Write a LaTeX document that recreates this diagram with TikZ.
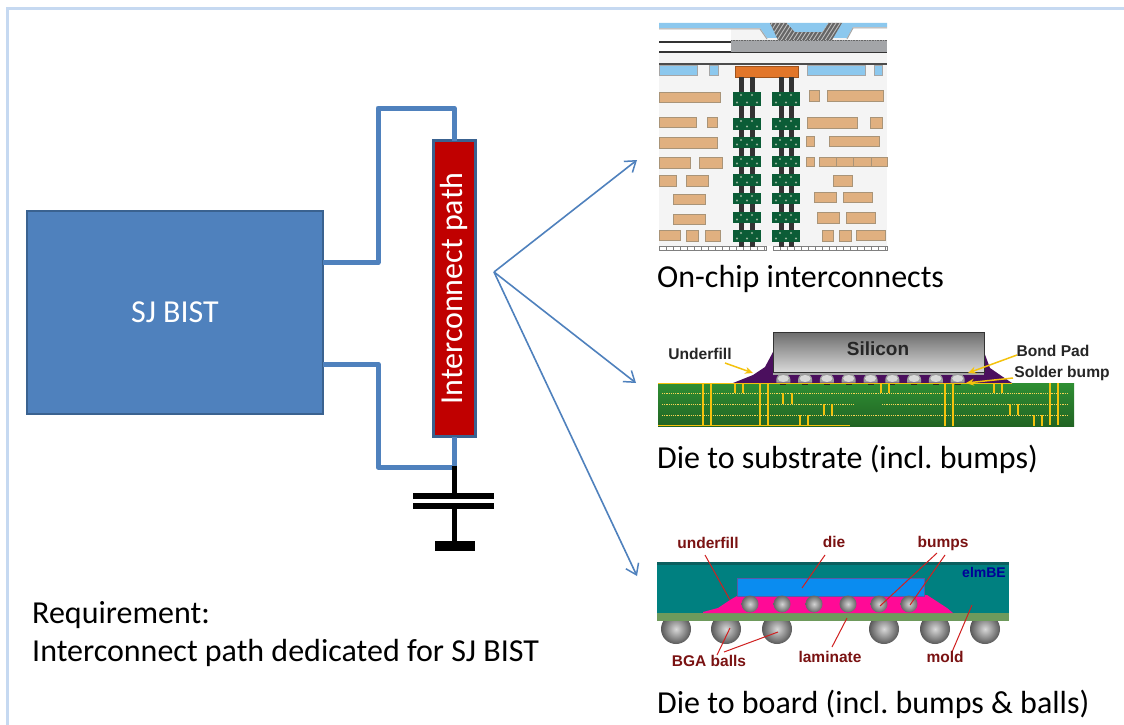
\documentclass[tikz,border=0pt]{standalone}
\usepackage{fontspec}
\setmainfont{Carlito}
\setsansfont{Liberation Sans}
\frenchspacing
\usetikzlibrary{arrows.meta}
\definecolor{frameblue}{HTML}{C6D9F1}
\definecolor{officeblue}{HTML}{4F81BD}
\definecolor{officeedge}{HTML}{3A6290}
\definecolor{pathred}{HTML}{C00000}
\definecolor{chipbg}{HTML}{F4F4F4}
\definecolor{chipblue}{HTML}{8CC8EE}
\definecolor{chipgrey}{HTML}{A3A5A8}
\definecolor{chiporange}{HTML}{E2762A}
\definecolor{chiptan}{HTML}{E0B080}
\definecolor{chiptanedge}{HTML}{A99478}
\definecolor{viagreen}{HTML}{0B5C36}
\definecolor{viadot}{HTML}{9DB8A0}
\definecolor{viadark}{HTML}{333333}
\definecolor{boardgreen}{HTML}{2F8F33}
\definecolor{goldline}{HTML}{F4C20D}
\definecolor{underpurple}{HTML}{4B0F5E}
\definecolor{moldteal}{HTML}{008080}
\definecolor{moldtop}{HTML}{0B5F5F}
\definecolor{laminate}{HTML}{6E9A5C}
\definecolor{dieblue}{HTML}{0A8CF0}
\definecolor{magentafill}{HTML}{FF0A96}
\definecolor{labelred}{HTML}{7A1212}
\definecolor{leadred}{HTML}{D02020}
\tikzset{
  bistbox/.style={draw=officeedge,line width=2.5pt,fill=officeblue,inner sep=0pt,outer sep=0pt,text=white,font=\fontsize{32}{34}\selectfont},
  pathbox/.style={draw=officeedge,line width=3pt,fill=pathred,inner sep=0pt,outer sep=0pt,text=white,font=\fontsize{32}{34}\selectfont},
  wire/.style={draw=officeblue,line width=5pt,line join=round},
  capwire/.style={draw=black,line width=5pt},
  plate/.style={fill=black,inner sep=0pt,outer sep=0pt},
  fan/.style={draw=officeblue,line width=1.6pt,-{Straight Barb[length=10pt,width=14pt,line width=1.5pt]}},
  caption/.style={anchor=base west,inner sep=0pt,text=black,font=\fontsize{32}{34}\selectfont},
  tan/.style={fill=chiptan,draw=chiptanedge,line width=.7pt},
  blueblock/.style={fill=chipblue,draw=gray!70,line width=.5pt},
  goldarrow/.style={draw=goldline,line width=1.5pt,-{Stealth[length=8pt,width=7pt]}},
  blackbold/.style={inner sep=0pt,text=black!85,font=\sffamily\bfseries\fontsize{15.6}{17}\selectfont},
  redbold/.style={inner sep=0pt,text=labelred,font=\sffamily\bfseries\fontsize{15.5}{17}\selectfont},
  lead/.style={draw=leadred,line width=1pt},
}
\begin{document}
\begin{tikzpicture}[x=1pt,y=-1pt]
\useasboundingbox (0,0) rectangle (1124,725);
\fill[white] (0,0) rectangle (1124,725);
% outer frame
\draw[frameblue,line width=3pt] (7.5,725) -- (7.5,8.5) -- (1124,8.5);

%%% left circuit
\node[bistbox,minimum width=296pt,minimum height=203pt] (bist) at (175,312.5) {\raisebox{-2pt}{SJ BIST}};
\node[pathbox,rotate=90,minimum width=296pt,minimum height=42pt] (ipath) at (454,288.5) {Interconnect path};
\coordinate (wa) at (378,262.5);
\coordinate (wb) at (378,108);
\coordinate (wc) at (378,364);
\coordinate (wd) at (378,467);
\draw[wire] (bist.east |- wa) -- (wa) -- (wb) -- (ipath.east |- wb) -- (ipath.east);
\draw[wire] (bist.east |- wc) -- (wc) -- (wd) -- (ipath.west |- wd) -- (ipath.west);
\node[plate,minimum width=81pt,minimum height=5.5pt] (capa) at (453.5,496) {};
\node[plate,minimum width=81pt,minimum height=5.5pt] (capb) at (453.5,506) {};
\node[plate,minimum width=40pt,minimum height=10pt] (capf) at (455,546) {};
\draw[capwire] (ipath.west |- 0,465.5) -- (ipath.west |- capa);
\draw[capwire] (ipath.west |- capb) -- (ipath.west |- capf);

%%% fan arrows
\coordinate (fan) at (494,272);
\coordinate (fana) at (637,160);
\coordinate (fanb) at (636,383);
\coordinate (fanc) at (637,576);
\draw[fan] (fan) -- (fana);
\draw[fan] (fan) -- (fanb);
\draw[fan] (fan) -- (fanc);

%%% on-chip cross-section
\fill[chipbg] (659,23) rectangle (887,250);
\fill[white] (659,29) rectangle (731,52);
\fill[white] (853,28) -- (887,28) -- (887,40) -- (847,40) -- cycle;
\fill[chipblue] (659,23) -- (770,23) -- (778,38) -- (767,38) -- (760,28) -- (659,28) -- cycle;
\draw[gray!70,line width=1pt] (659,29) -- (760,29) -- (767,39);
\fill[chipblue] (842,23) -- (887,23) -- (887,27) -- (853,27) -- (847,38) -- (833,38) -- cycle;
\draw[gray!70,line width=1pt] (847,39) -- (853,28) -- (887,28);
\begin{scope}
\clip (770,23) -- (787,23) -- (795,32) -- (822,32) -- (828,23) -- (842,23) -- (832,40) -- (778,40) -- cycle;
\fill[black!60] (765,20) rectangle (845,42);
\foreach \hx in {756,760,...,848} \draw[gray!50,line width=.9pt] (\hx,42) -- (\hx+14,20);
\end{scope}
\fill[chipblue] (787,23) -- (795,32) -- (822,32) -- (828,23) -- cycle;
\draw[black!80,line width=1.2pt] (659,42) -- (731,42);
\draw[black!80,line width=1.2pt] (659,52) -- (887,52);
\fill[chipgrey] (731,40) rectangle (887,52);
\draw[black!60,line width=.6pt,densely dotted] (731,40) -- (887,40);
\draw[black!70,line width=1.8pt] (659,64) -- (887,64);
\draw[blueblock] (659,65) rectangle (697,75);
\draw[blueblock] (709,65) rectangle (718,75);
\draw[blueblock] (807,65) rectangle (865,75);
\draw[blueblock] (874,65) rectangle (882,75);
\draw[fill=chiporange,draw=chiporange!70!black,line width=.6pt] (735,66) rectangle (798,77);
\foreach \vx in {739,750,779,789} \fill[viadark] (\vx,77) rectangle ++(5,170);
\foreach \gy/\gh in {92/14,118/12,137/11,156/11,174/12,193/11,212/11,230/12}{
  \foreach \gx in {733,772}{
    \fill[viagreen] (\gx,\gy) rectangle ++(28,\gh);
    \foreach \dx in {8,19} \fill[viadot] (\gx+\dx,\gy+3) circle (1.1pt);
    \foreach \dx in {4,14,24} \fill[viadot] (\gx+\dx,\gy+\gh-3.5) circle (1.1pt);
  }
}
\foreach \xa/\ya/\xb/\yb in {659/92/720/102,659/117/696/127,707/117/717/127,659/137/717/148,659/157/690/168,699/157/722/168,659/175/676/186,686/175/708/186,673/194/705/204,673/214/705/224,659/230/680/240,686/230/698/241,705/230/720/241,809/90/819/101,827/90/883/101,807/117/857/128,870/117/882/128,806/136/814/146,829/136/879/146,806/157/814/166,819/157/836/166,836/157/853/166,853/157/871/166,871/157/887/166,833/175/852/186,814/192/836/202,843/192/872/202,817/212/839/223,846/212/875/223,822/230/833/241,839/230/851/241,856/230/885/240}
  \draw[tan] (\xa,\ya) rectangle (\xb,\yb);
\fill[white] (659,246) rectangle (887,251);
\draw[gray,line width=.5pt] (659,246.5) rectangle (766,250.5);
\draw[gray,line width=.5pt] (773,246.5) rectangle (887,250.5);
\foreach \tx in {666,673,...,764} \draw[gray,line width=.5pt] (\tx,246.5) -- (\tx,250.5);
\foreach \tx in {780,787,...,885} \draw[gray,line width=.5pt] (\tx,246.5) -- (\tx,250.5);
\foreach \vx in {739,750,779,789} \fill[viadark] (\vx,242) rectangle ++(5,5);
\node[caption] (capone) at (657,287) {On-chip interconnects};

%%% die to substrate
\fill[underpurple] (733,383) -- (753,375) -- (765,367) -- (773,352) -- (984,352) -- (990,368) -- (1003,377) -- (1012,383) -- cycle;
\shade[top color=boardgreen,bottom color=boardgreen!70!black] (658,383) rectangle (1074,426);
\fill[gray!70] (773,372) rectangle (984,375);
\foreach \bi in {0,...,8}{
  \fill[gray!75] (783.3+21.8*\bi-7,382.5) -- ++(0,-3) arc (180:0:7pt and 6pt) -- ++(0,3) -- cycle;
  \fill[gray!30] (783.3+21.8*\bi,378.5) ellipse (5.5pt and 3.5pt);
  \fill[black!85] (783.3+21.8*\bi-3,383.5) rectangle ++(6,1.5);
}
\shade[top color=gray!85!black,middle color=gray!55,bottom color=gray!30,draw=black!80,line width=1pt] (773,332) rectangle (984,372);
\node[inner sep=0pt,text=black!85,font=\sffamily\bfseries\fontsize{19}{21}\selectfont] (silicon) at (878,349) {Silicon};
\draw[goldline,line width=1pt] (658,383) -- (1012,383);
\foreach \ly/\xa/\xb in {393/662/1069,404/662/854,404/882/1069,415/662/1069}
  \draw[goldline!70!white,line width=.8pt,dash pattern=on 1.2pt off 1pt] (\xa,\ly) -- (\xb,\ly);
\draw[goldline,line width=.8pt] (658,425) -- (850,425);
\foreach \vx in {703,711,760,768,1050,1058} \draw[goldline,line width=1.2pt] (\vx,383) -- (\vx,425);
\foreach \vx in {945,953} \draw[goldline,line width=2pt] (\vx,383) -- (\vx,426);
\foreach \vx/\ya/\yb in {735/383/393,743/383/393,783/393/404,792/393/404,824/404/415,832/404/415,881/383/393,889/383/393,994/383/393,1002/383/393,1010/404/415,1018/404/415,1034/415/426,1042/415/426,800/415/426,808/415/426}
  \draw[goldline,line width=1.1pt] (\vx,\ya) -- (\vx,\yb);
\draw[goldarrow] (725,363) -- (753,373);
\draw[goldarrow] (1017,355) -- (968,373);
\draw[goldarrow] (1013,378) -- (966,383);
\node[blackbold] (lunder) at (700,354) {Underfill};
\node[blackbold] (lbond) at (1053,351) {Bond Pad};
\node[blackbold] (lsolder) at (1062,373) {Solder bump};
\node[caption] (captwo) at (657,468) {Die to substrate (incl. bumps)};

%%% die to board
\fill[moldteal] (657,562) rectangle (1009,613);
\fill[moldtop] (657,562) rectangle (1009,564.5);
\foreach \bx in {676,726,777,884,935,985}
  \shade[inner color=gray!30,outer color=black!65] (\bx,629) circle (15pt);
\fill[laminate] (657,613) rectangle (1009,621);
\fill[magentafill] (737,596) -- (730,600) -- (718,608) -- (703,612) -- (703,613) -- (953,613) -- (947,608) -- (927,595) -- cycle;
\draw[fill=dieblue,draw=gray!70!blue,line width=.6pt] (737,578) rectangle (924,596);
\foreach \bx in {750,782,814,848,879,909}
  \shade[inner color=gray!35,outer color=black!60] (\bx,604) circle (8.5pt);
\draw[lead] (705,555) -- (730,600);
\draw[lead] (825,555) -- (802,588);
\draw[lead] (937,553) -- (880,606);
\draw[lead] (945,555) -- (910,605);
\draw[lead] (717,655) -- (730,628);
\draw[lead] (724,652) -- (778,632);
\draw[lead] (832,647) -- (847,618);
\draw[lead] (952,652) -- (972,605);
\node[redbold] (lu) at (708,543) {underfill};
\node[redbold] (ld) at (834,542) {die};
\node[redbold] (lb) at (943,543) {bumps};
\node[inner sep=0pt,text=blue!60!black,font=\sffamily\bfseries\fontsize{14}{15}\selectfont] (lelm) at (984,572) {elmBE};
\node[redbold] (lbga) at (709,661) {BGA balls};
\node[redbold] (llam) at (830,657) {laminate};
\node[redbold] (lmold) at (945,657) {mold};
\node[caption] (capthree) at (657,713) {Die to board (incl. bumps \& balls)};

%%% requirement
\node[caption] (req) at (32,623) {Requirement:};
\node[caption] (reqb) at (32,661) {Interconnect path dedicated for SJ BIST};
\end{tikzpicture}
\end{document}
